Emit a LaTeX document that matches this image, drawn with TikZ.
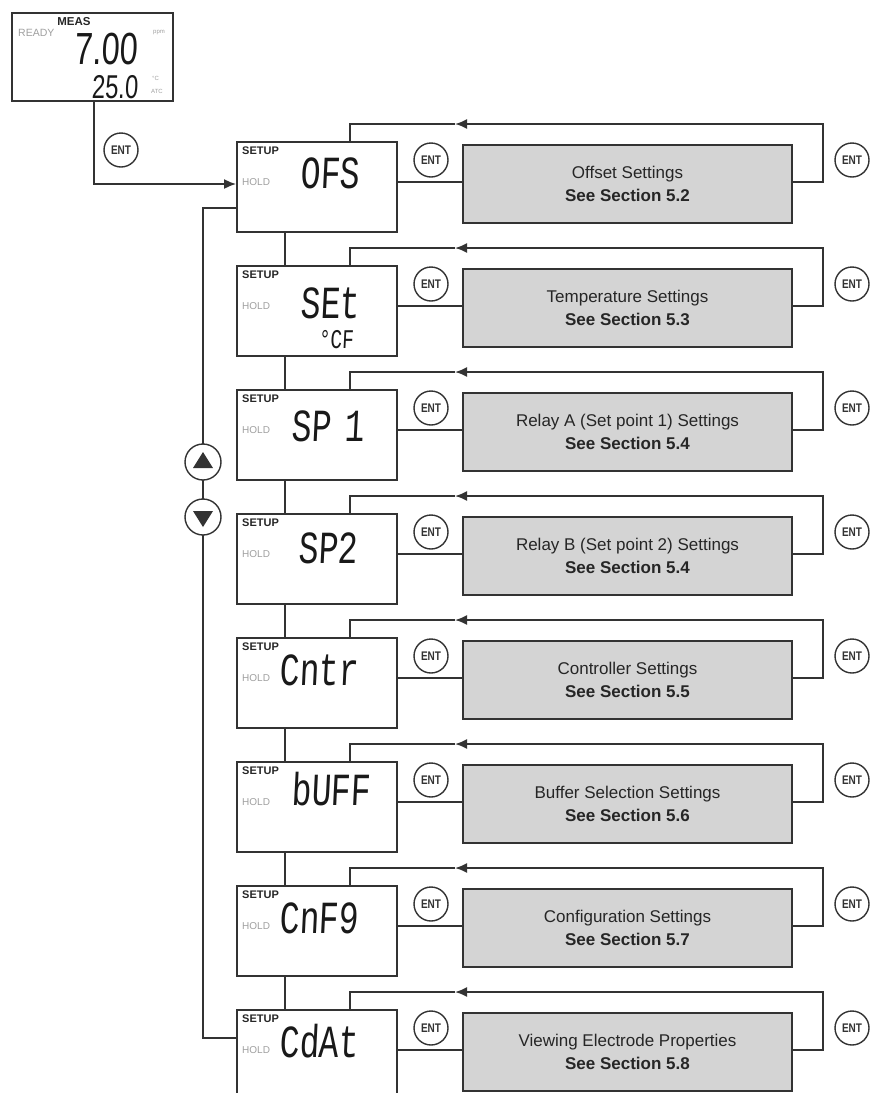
\documentclass[tikz,border=0pt]{standalone}
\usepackage{fontspec}
\setmainfont{Liberation Sans}
\newfontfamily\segfont[FakeStretch=0.72,FakeSlant=0.05]{Liberation Mono}
\newfontfamily\measfont[FakeStretch=0.72,FakeSlant=0.05]{Liberation Sans}
\newfontfamily\entfont[FakeStretch=0.8]{Liberation Sans}
\usetikzlibrary{arrows.meta}
\definecolor{ln}{HTML}{333333}
\definecolor{boxgray}{HTML}{D4D4D4}
\definecolor{dimtext}{HTML}{A0A0A0}
\begin{document}
\begin{tikzpicture}[x=1pt,y=-1pt,
  wire/.style={draw=ln,line width=1.8pt},
  tip/.style={-{Latex[length=12pt,width=10pt]}},
  lcd/.style={wire,fill=white,rectangle,minimum width=160pt,minimum height=90pt,inner sep=0pt},
  infobox/.style={wire,fill=boxgray,rectangle,minimum width=329pt,minimum height=78pt,inner sep=0pt,align=center,font=\fontsize{17}{23}\selectfont,text=black!85},
  entkey/.style={circle,draw=ln,line width=1.4pt,fill=white,minimum size=34pt,inner sep=0pt,font=\entfont\bfseries\fontsize{12.5}{12.5}\selectfont,text=ln},
  arrkey/.style={circle,draw=ln,line width=1.4pt,fill=white,minimum size=36pt,inner sep=0pt},
  setuplbl/.style={font=\bfseries\fontsize{11}{11}\selectfont,inner sep=0pt,text=black!85},
  holdlbl/.style={font=\fontsize{10}{10}\selectfont,inner sep=0pt,text=dimtext},
  seg/.style={font=\segfont\fontsize{46}{46}\selectfont,inner sep=0pt,text=black!90},
  segsmall/.style={font=\segfont\fontsize{27}{27}\selectfont,inner sep=0pt,text=black!90},
  tiny/.style={font=\fontsize{6}{6}\selectfont,inner sep=0pt,text=dimtext}
]
\useasboundingbox (0,0) rectangle (878,1093);

% measurement display
\node[wire,fill=white,rectangle,minimum width=161pt,minimum height=88pt,inner sep=0pt] (meas) at (92.5,57) {};
\node[setuplbl,font=\bfseries\fontsize{11.5}{11.5}\selectfont] (measlbl) at (74,22) {MEAS};
\node[holdlbl,font=\fontsize{10.5}{10.5}\selectfont,anchor=west] (ready) at (18,33) {READY};
\node[font=\measfont\fontsize{45}{45}\selectfont,inner sep=0pt,anchor=base east,text=black!90] (mainval) at (138,64) {7.00};
\node[font=\measfont\fontsize{33}{33}\selectfont,inner sep=0pt,anchor=base east,text=black!90] (tempval) at (138,98) {25.0};
\node[tiny,anchor=west] (ppm) at (153,33) {ppm};
\node[tiny,anchor=west] (degc) at (152,78) {°C};
\node[tiny,anchor=west] (atc) at (151,91) {ATC};

% setup rows
\foreach \i/\title/\sec in {1/Offset Settings/5.2,2/Temperature Settings/5.3,3/Relay A (Set point 1) Settings/5.4,4/Relay B (Set point 2) Settings/5.4,5/Controller Settings/5.5,6/Buffer Selection Settings/5.6,7/Configuration Settings/5.7,8/Viewing Electrode Properties/5.8}{
  \pgfmathsetmacro\rowy{142+124*(\i-1)}
  \node[lcd] (s\i) at (317,\rowy+45) {};
  \node[setuplbl,anchor=west] (su\i) at (242,\rowy+9) {SETUP};
  \node[holdlbl,anchor=west] (h\i) at (242,\rowy+40) {HOLD};
  \node[infobox] (g\i) at (627.5,\rowy+42) {\title\\\textbf{See Section \sec}};
  \coordinate (r\i) at (0,\rowy+40);
  \coordinate (rc\i) at (823,\rowy-18);
  \coordinate (ra\i) at (455,\rowy-18);
  \coordinate (lc\i) at (350,\rowy-18);
  \node[entkey] (el\i) at (431,\rowy+18) {ENT};
  \node[entkey] (er\i) at (852,\rowy+18) {ENT};
  \draw[wire] (s\i.east |- r\i) -- (g\i.west |- r\i);
  \draw[wire,tip] (g\i.east |- r\i) -- (rc\i |- r\i) -- (rc\i) -- (ra\i);
  \draw[wire] (ra\i) -- (lc\i) -- (lc\i |- s\i.north);
}

% segment texts
\node[seg,anchor=base] (t1) at (330,188) {OFS};
\node[seg,anchor=base] (t2) at (330,318) {SEt};
\node[segsmall,anchor=base] (t2b) at (336,348) {°CF};
\node[seg,anchor=base] (t3) at (328,441) {SP\kern-7pt\ 1};
\node[seg,anchor=base] (t4) at (328,563) {SP2};
\node[seg,anchor=base west] (t5) at (279,685) {Cntr};
\node[seg,anchor=base] (t6) at (331,805) {bUFF};
\node[seg,anchor=base west] (t7) at (279,933) {CnF9};
\node[seg,anchor=base west] (t8) at (279,1057) {CdAt};

% vertical links between setup screens
\coordinate (vx) at (285,0);
\foreach \i [evaluate=\i as \j using int(\i+1)] in {1,...,7}{
  \draw[wire] (s\i.south -| vx) -- (s\j.north -| vx);
}

% entry from measurement display
\coordinate (mc) at (94,184);
\node[entkey] (e0) at (121,150) {ENT};
\draw[wire,tip] (meas.south -| mc) -- (mc) -- (s1.west |- mc);

% left up/down loop
\coordinate (ll1) at (203,208);
\coordinate (ll8) at (203,1038);
\draw[wire] (s1.west |- ll1) -- (ll1) -- (ll8) -- (s8.west |- ll8);
\node[arrkey] (up) at (203,462) {};
\node[arrkey] (dn) at (203,517) {};
\fill[ln] ([shift={(-10,6)}]up.center) -- ([shift={(10,6)}]up.center) -- ([shift={(0,-10)}]up.center) -- cycle;
\fill[ln] ([shift={(-10,-6)}]dn.center) -- ([shift={(10,-6)}]dn.center) -- ([shift={(0,10)}]dn.center) -- cycle;
\end{tikzpicture}
\end{document}
